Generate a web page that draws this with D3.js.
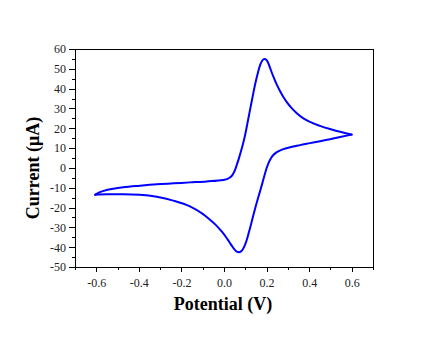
<!DOCTYPE html>
<html>
<head>
<meta charset="utf-8">
<script src="https://cdn.jsdelivr.net/npm/d3@7"></script>
<style>
  body { margin: 0; background: #fff; }
  svg { display: block; }
</style>
</head>
<body>
<script>
// forward scan (negative -> positive)
var forwardV = [-0.605, -0.583, -0.551, -0.520, -0.473, -0.395, -0.316, -0.238, -0.160, -0.081, -0.003,
                0.028, 0.040, 0.050, 0.060, 0.070, 0.080, 0.090, 0.100, 0.110, 0.120, 0.130, 0.140,
                0.150, 0.160, 0.170, 0.180, 0.190, 0.200, 0.210, 0.220, 0.232, 0.248, 0.263, 0.279,
                0.295, 0.318, 0.342, 0.373, 0.404, 0.451, 0.498, 0.545, 0.600];
var forwardI = [-13.5, -12.2, -11.1, -10.5, -9.8, -9.0, -8.3, -7.8, -7.3, -6.8, -6.1,
                -4.8, -3.5, -1.5, 1.5, 4.8, 8.5, 12.5, 17.0, 22.5, 28.0, 33.5, 39.0,
                44.0, 48.3, 52.0, 54.2, 55.0, 54.5, 52.3, 49.4, 46.0, 42.0, 38.8, 35.8,
                33.2, 30.2, 27.6, 25.0, 23.2, 21.2, 19.6, 18.2, 16.8];

// reverse scan (positive -> negative)
var reverseV = [0.600, 0.545, 0.498, 0.451, 0.404, 0.357, 0.310, 0.279, 0.260, 0.245, 0.232, 0.220,
                0.210, 0.200, 0.190, 0.180, 0.170, 0.160, 0.150, 0.140, 0.130, 0.120, 0.110, 0.100,
                0.090, 0.080, 0.070, 0.060, 0.050, 0.040, 0.025, 0.010, -0.010, -0.040, -0.070, -0.100,
                -0.160, -0.238, -0.316, -0.395, -0.473, -0.551, -0.605];
var reverseI = [16.8, 15.6, 14.5, 13.5, 12.5, 11.5, 10.4, 9.5, 8.6, 7.7, 6.5, 4.8,
                2.7, -0.2, -3.8, -7.8, -11.5, -15.2, -19.0, -23.0, -27.2, -31.3, -35.2, -38.5,
                -40.8, -42.1, -42.5, -42.2, -41.2, -39.8, -37.4, -35.0, -32.2, -28.6, -25.8, -23.2,
                -19.4, -16.5, -14.6, -13.6, -13.3, -13.3, -13.5];

var xTicks = [-0.6, -0.4, -0.2, 0.0, 0.2, 0.4, 0.6];
var yTicks = [-50, -40, -30, -20, -10, 0, 10, 20, 30, 40, 50, 60];

var width = 424, height = 342;
var margin = {top: 49, right: 51, bottom: 75, left: 75};

var svg = d3.select("body").append("svg")
    .attr("width", width)
    .attr("height", height);

var x = d3.scaleLinear().domain([-0.7, 0.7]).range([margin.left, width - margin.right]);
var y = d3.scaleLinear().domain([-50, 60]).range([height - margin.bottom, margin.top]);

// frame (top + right)
svg.append("path")
    .attr("d", "M" + x(-0.7) + "," + y(60) + "H" + x(0.7) + "V" + y(-50))
    .attr("fill", "none")
    .attr("stroke", "#000")
    .attr("stroke-width", 1)
    .attr("shape-rendering", "crispEdges");

// minor ticks
var xMinor = d3.range(-7, 8).map(function(d) { return d / 10; });
var yMinor = d3.range(-50, 61, 5);

svg.append("g")
    .attr("transform", "translate(0," + y(-50) + ")")
    .call(d3.axisBottom(x).tickValues(xMinor).tickSize(3).tickFormat(""))
    .call(function(g) { g.select(".domain").remove(); })
    .attr("shape-rendering", "crispEdges");

svg.append("g")
    .attr("transform", "translate(" + x(-0.7) + ",0)")
    .call(d3.axisLeft(y).tickValues(yMinor).tickSize(3).tickFormat(""))
    .call(function(g) { g.select(".domain").remove(); })
    .attr("shape-rendering", "crispEdges");

// major axes
svg.append("g")
    .attr("transform", "translate(0," + y(-50) + ")")
    .call(d3.axisBottom(x).tickValues(xTicks).tickSize(5).tickSizeOuter(0).tickPadding(6)
        .tickFormat(d3.format(".1f")))
    .attr("shape-rendering", "crispEdges");

svg.append("g")
    .attr("transform", "translate(" + x(-0.7) + ",0)")
    .call(d3.axisLeft(y).tickValues(yTicks).tickSize(6).tickSizeOuter(0).tickPadding(3)
        .tickFormat(d3.format("d")))
    .attr("shape-rendering", "crispEdges");

svg.selectAll(".tick text")
    .attr("font-family", "'Liberation Serif', 'Times New Roman', serif")
    .attr("font-size", 12)
    .attr("fill", "#222")
    .text(function() { return String(this.textContent).replace("\u2212", "-"); });

// curves (both branches drawn left to right so monotoneX applies)
var line = d3.line()
    .x(function(d) { return x(d[0]); })
    .y(function(d) { return y(d[1]); })
    .curve(d3.curveMonotoneX);

var fwd = forwardV.map(function(v, i) { return [v, forwardI[i]]; });
var rev = reverseV.map(function(v, i) { return [v, reverseI[i]]; }).reverse();

[fwd, rev].forEach(function(data) {
    svg.append("path")
        .datum(data)
        .attr("d", line)
        .attr("fill", "none")
        .attr("stroke", "#0000ff")
        .attr("stroke-width", 2)
        .attr("stroke-linejoin", "round")
        .attr("stroke-linecap", "round");
});

// axis titles
svg.append("text")
    .attr("x", 223)
    .attr("y", 310)
    .attr("text-anchor", "middle")
    .attr("font-family", "'Liberation Serif', 'Times New Roman', serif")
    .attr("font-weight", "bold")
    .attr("font-size", 18)
    .text("Potential (V)");

svg.append("text")
    .attr("transform", "translate(39,168) rotate(-90)")
    .attr("text-anchor", "middle")
    .attr("font-family", "'Liberation Serif', 'Times New Roman', serif")
    .attr("font-weight", "bold")
    .attr("font-size", 18)
    .text("Current (\u03bcA)");
</script>
</body>
</html>
